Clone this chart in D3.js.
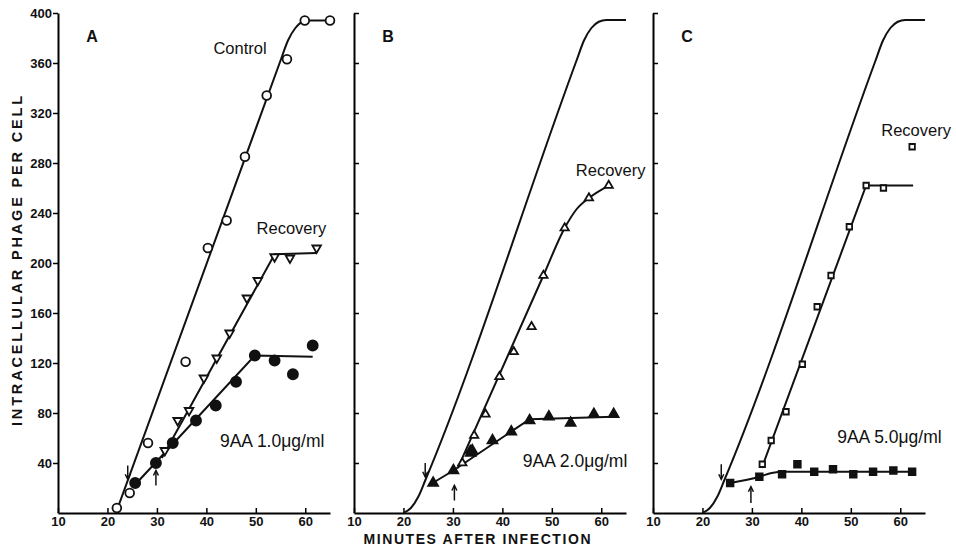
<!DOCTYPE html>
<html>
<head>
<meta charset="utf-8">
<script src="https://cdn.jsdelivr.net/npm/d3@7"></script>
<style>
  body { margin: 0; background: #fff; }
  text { fill: #111; }
</style>
</head>
<body>
<svg id="chart" width="956" height="555"></svg>
<script>
// Values: [minutes after infection, intracellular phage per cell]
const minuteTicks = [10, 20, 30, 40, 50, 60];
const phageTicks = [40, 80, 120, 160, 200, 240, 280, 320, 360, 400];

// Panel A
const controlPointsA = [[21.9, 4], [24.5, 16], [28.2, 56], [35.8, 121], [40.3, 212], [44.1, 234],
  [47.8, 285], [52.2, 334], [56.3, 363], [59.9, 394], [65, 394]];
const recoveryPointsA = [[31.6, 50], [34.2, 74], [36.5, 82], [39.5, 108], [42.1, 124], [44.7, 144],
  [48.2, 172], [50.4, 186], [53.8, 205], [56.9, 204], [62.3, 212]];
const drugPointsA = [[25.6, 24], [29.8, 40], [33.2, 56], [37.9, 74], [41.9, 86], [46, 105],
  [49.8, 126], [53.8, 122], [57.5, 111], [61.5, 134]];
const controlLineA = [[21.8, 1], [55, 362], [56.5, 378], [58, 388], [59.5, 393], [61, 394], [65, 394]];
const recoveryLineA = [[31, 44], [53.8, 207], [62.3, 208]];
const drugLineA = [[25.2, 21], [49.8, 126], [61.5, 125]];

// Control growth curve redrawn in panels B and C
const controlLine = [[20, 0], [21.5, 4], [23, 13], [24.5, 27], [55, 362], [56.5, 378], [58, 388],
  [59.5, 393], [61, 394.5], [65, 394.5]];

// Panel B
const recoveryPointsB = [[31.9, 40], [33.5, 50], [34.3, 62], [36.6, 79], [39.4, 109], [42.3, 129],
  [45.9, 149], [48.3, 190], [52.6, 228], [57.5, 252], [61.5, 262]];
const drugPointsB = [[26, 24], [30.1, 34], [33.6, 48], [33.9, 50], [38, 58], [41.8, 65], [45.5, 74],
  [49.4, 77], [53.8, 72], [58.5, 79], [62.5, 79]];
const recoveryLineB = [[31, 36], [48.3, 190], [52.6, 228], [55, 243], [57.5, 252], [61.5, 262]];
const drugLineB = [[25.5, 23], [30.1, 34], [45.5, 75], [62.5, 77]];

// Panel C
const recoveryPointsC = [[32.1, 39], [33.9, 58], [36.9, 81], [40.2, 119], [43.2, 165], [46, 190],
  [49.7, 229], [53.1, 262], [56.6, 260], [62.4, 293]];
const drugPointsC = [[25.6, 24], [31.5, 29], [36.1, 31], [39.2, 39], [42.6, 33], [46.4, 35],
  [50.5, 31], [54.5, 33], [58.6, 34], [62.4, 33]];
const recoveryLineC = [[32, 36], [53.1, 262], [62.6, 262]];
const drugLineC = [[25.6, 24], [31.5, 29], [34, 32], [36.5, 33], [62.4, 33]];

// Arrows: [minute, tail value, head value]
const downArrows = [[24.1, 38, 27], [24.4, 40, 29], [23.8, 39, 27]];
const upArrows = [[29.8, 22, 34], [30.3, 10, 22], [29.8, 8, 21]];

const panels = [
  {
    id: 'A', left: 58, showLabels: true,
    control: controlLineA, controlPoints: controlPointsA, controlCurve: d3.curveMonotoneX,
    recovery: recoveryPointsA, recoveryLine: recoveryLineA, recoveryCurve: d3.curveLinear,
    recoveryMark: 'triDown',
    drug: drugPointsA, drugLine: drugLineA, drugCurve: d3.curveLinear, drugMark: 'dot',
    dose: '9AA 1.0\u03bcg/ml', doseAt: [53.3, 58], recAt: [57.2, 228], ctrlAt: [46.8, 372],
  },
  {
    id: 'B', left: 354, showLabels: false,
    control: controlLine, controlPoints: [], controlCurve: d3.curveMonotoneX,
    recovery: recoveryPointsB, recoveryLine: recoveryLineB, recoveryCurve: d3.curveMonotoneX,
    recoveryMark: 'triUp',
    drug: drugPointsB, drugLine: drugLineB, drugCurve: d3.curveLinear, drugMark: 'triFill',
    dose: '9AA 2.0\u03bcg/ml', doseAt: [54.7, 42], recAt: [61.9, 274],
  },
  {
    id: 'C', left: 653, showLabels: false,
    control: controlLine, controlPoints: [], controlCurve: d3.curveMonotoneX,
    recovery: recoveryPointsC, recoveryLine: recoveryLineC, recoveryCurve: d3.curveLinear,
    recoveryMark: 'square',
    drug: drugPointsC, drugLine: drugLineC, drugCurve: d3.curveMonotoneX, drugMark: 'squareFill',
    dose: '9AA 5.0\u03bcg/ml', doseAt: [57.8, 61], recAt: [63.2, 306],
  },
];

const svg = d3.select('#chart');
const FONT = '"Liberation Sans", Arial, sans-serif';
const panelW = 272;
const y = d3.scaleLinear().domain([0, 400]).range([513, 13]);

const markShapes = {
  circle: { type: d3.symbolCircle, size: 60, fill: '#fff', rotate: 0 },
  dot: { type: d3.symbolCircle, size: 80, fill: '#111', rotate: 0 },
  triDown: { type: d3.symbolTriangle, size: 32, fill: '#fff', rotate: 180 },
  triUp: { type: d3.symbolTriangle, size: 30, fill: '#fff', rotate: 0 },
  triFill: { type: d3.symbolTriangle, size: 42, fill: '#111', rotate: 0 },
  square: { type: d3.symbolSquare, size: 30, fill: '#fff', rotate: 0 },
  squareFill: { type: d3.symbolSquare, size: 44, fill: '#111', rotate: 0 },
};

const drawMarks = (g, x, pts, kind) => {
  const s = markShapes[kind];
  g.selectAll(null).data(pts).enter().append('path')
    .attr('d', d3.symbol().type(s.type).size(s.size))
    .attr('transform', d => `translate(${x(d[0])},${y(d[1])}) rotate(${s.rotate})`)
    .attr('fill', s.fill).attr('stroke', '#111').attr('stroke-width', 1.8);
};

const drawLine = (g, x, pts, curve) => {
  g.append('path').datum(pts)
    .attr('d', d3.line().x(d => x(d[0])).y(d => y(d[1])).curve(curve))
    .attr('fill', 'none').attr('stroke', '#111').attr('stroke-width', 2);
};

const drawArrow = (g, x, a) => {
  const [m, tail, head] = a;
  const px = x(m), y0 = y(tail), y1 = y(head);
  const dir = y1 > y0 ? 1 : -1;
  g.append('line').attr('x1', px).attr('x2', px).attr('y1', y0).attr('y2', y1)
    .attr('stroke', '#111').attr('stroke-width', 1.5);
  g.append('path')
    .attr('d', `M${px - 2.5},${y1 - dir * 5} L${px},${y1} L${px + 2.5},${y1 - dir * 5}`)
    .attr('fill', 'none').attr('stroke', '#111').attr('stroke-width', 1.5);
};

panels.forEach((p, i) => {
  const x = d3.scaleLinear().domain([10, 65]).range([p.left, p.left + panelW]);
  const g = svg.append('g');

  // axes
  const xAxis = d3.axisBottom(x).tickValues(minuteTicks).tickSizeInner(-5).tickSizeOuter(0)
    .tickPadding(4).tickFormat(d3.format('d'));
  const gx = g.append('g').attr('transform', `translate(0,${y(0)})`).call(xAxis);
  gx.select('.domain').attr('stroke-width', 2);
  gx.selectAll('.tick line').attr('stroke-width', 1.5);
  gx.selectAll('text').style('font-family', FONT).style('font-size', '13px')
    .style('font-weight', 'bold').attr('fill', '#111');

  const yAxis = d3.axisLeft(y).tickValues(phageTicks).tickSizeOuter(0);
  if (p.showLabels) yAxis.tickSizeInner(5).tickPadding(1).tickFormat(d3.format('d'));
  else yAxis.tickSizeInner(-5).tickFormat('');
  const gy = g.append('g').attr('transform', `translate(${p.left},0)`).call(yAxis);
  gy.select('.domain').attr('stroke-width', 2);
  gy.selectAll('.tick line').attr('stroke-width', 1.5);
  gy.selectAll('text').style('font-family', FONT).style('font-size', '13px')
    .style('font-weight', 'bold').attr('fill', '#111');

  // curves
  drawLine(g, x, p.control, p.controlCurve);
  drawLine(g, x, p.recoveryLine, p.recoveryCurve);
  drawLine(g, x, p.drugLine, p.drugCurve);

  drawMarks(g, x, p.controlPoints, 'circle');
  drawMarks(g, x, p.recovery, p.recoveryMark);
  drawMarks(g, x, p.drug, p.drugMark);

  drawArrow(g, x, downArrows[i]);
  drawArrow(g, x, upArrows[i]);

  // labels
  g.append('text').attr('x', x(16.9)).attr('y', y(381)).attr('dy', '0.35em')
    .attr('text-anchor', 'middle').style('font-family', FONT)
    .style('font-size', '16px').style('font-weight', 'bold').text(p.id);

  const label = (at, txt, size) => g.append('text')
    .attr('x', x(at[0])).attr('y', y(at[1])).attr('dy', '0.35em')
    .attr('text-anchor', 'middle').style('font-family', FONT)
    .style('font-size', size).text(txt);

  if (p.ctrlAt) label(p.ctrlAt, 'Control', '16.5px');
  label(p.recAt, 'Recovery', '16.5px');
  label(p.doseAt, p.dose, '17.5px');
});

// axis titles
svg.append('text')
  .attr('transform', `translate(17,261) rotate(-90)`)
  .attr('text-anchor', 'middle').attr('dy', '0.35em')
  .attr('textLength', 330).attr('lengthAdjust', 'spacing')
  .style('font-family', FONT).style('font-size', '14.5px').style('font-weight', 'bold')
  .text('INTRACELLULAR PHAGE PER CELL');

svg.append('text')
  .attr('x', 477).attr('y', 539).attr('dy', '0.35em').attr('text-anchor', 'middle')
  .attr('textLength', 227).attr('lengthAdjust', 'spacing')
  .style('font-family', FONT).style('font-size', '14px').style('font-weight', 'bold')
  .text('MINUTES AFTER INFECTION');
</script>
</body>
</html>
